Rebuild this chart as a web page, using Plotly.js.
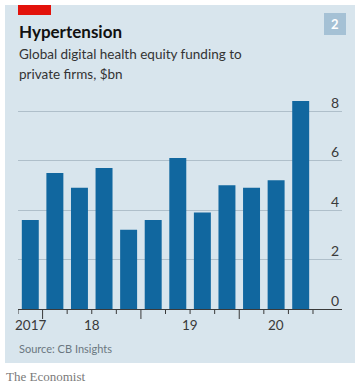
<!DOCTYPE html>
<html>
<head>
<meta charset="utf-8">
<script src="https://cdn.plot.ly/plotly-3.0.1.min.js"></script>
<style>
html,body{margin:0;padding:0;background:#fff;}
#chart{width:362px;height:392px;}
</style>
</head>
<body>
<div id="chart"></div>
<script>
// Quarterly funding, $bn (Q4 2017 .. Q3 2020)
var quarters = ["2017 Q4","2018 Q1","2018 Q2","2018 Q3","2018 Q4","2019 Q1","2019 Q2","2019 Q3","2019 Q4","2020 Q1","2020 Q2","2020 Q3"];
var funding = [3.6, 5.5, 4.9, 5.7, 3.2, 3.6, 6.1, 3.9, 5.0, 4.9, 5.2, 8.4];
var yearLabels = ["2017", "18", "19", "20"];
var yearLabelPos = [0, 2.5, 6.5, 10];
var quarterBounds = [-0.5, 0.5, 1.5, 2.5, 3.5, 4.5, 5.5, 6.5, 7.5, 8.5, 9.5, 10.5, 11.5];
var yearBounds = [0.5, 4.5, 8.5];
var yTicks = [0, 2, 4, 6, 8];

var W = 362, H = 392;
function px(x){ return x / W; }
function py(y){ return 1 - y / H; }

var xIdx = quarters.map(function(q, i){ return i; });
var xRange = [-0.5, 12.68];
var yMax = 9.0;
var axisY = 309;
var xDomain = [px(18), px(342)];
var yDomain = [py(axisY), py(axisY - yMax * 24.75)];

var traces = [{
  type: "bar",
  x: xIdx,
  y: funding,
  text: quarters,
  hoverinfo: "text+y",
  textposition: "none",
  marker: { color: "#11679f" },
  width: 0.69
}];

var bg = "#d8e5ed";
var axCol = "#3a3a3a";

var annotations = [
  { text: "<b>Hypertension</b>", xref: "paper", yref: "paper", x: px(17), y: py(31),
    xanchor: "left", yanchor: "middle", showarrow: false,
    font: { size: 17, color: "#111", family: "Lato, sans-serif" } },
  { text: "Global digital health equity funding to", xref: "paper", yref: "paper", x: px(17), y: py(54),
    xanchor: "left", yanchor: "middle", showarrow: false,
    font: { size: 13.5, color: "#333", family: "Lato, sans-serif" } },
  { text: "private firms, $bn", xref: "paper", yref: "paper", x: px(17), y: py(74),
    xanchor: "left", yanchor: "middle", showarrow: false,
    font: { size: 13.5, color: "#333", family: "Lato, sans-serif" } },
  { text: "<b>2</b>", xref: "paper", yref: "paper", x: px(335), y: py(24),
    xanchor: "center", yanchor: "middle", showarrow: false,
    font: { size: 13, color: "#ffffff", family: "Lato, sans-serif" } },
  { text: "Source: CB Insights", xref: "paper", yref: "paper", x: px(17), y: py(348),
    xanchor: "left", yanchor: "middle", showarrow: false,
    font: { size: 11, color: "#6b7780", family: "Lato, sans-serif" } },
  { text: "The Economist", xref: "paper", yref: "paper", x: px(4), y: py(376),
    xanchor: "left", yanchor: "middle", showarrow: false,
    font: { size: 13, color: "#7a7a7a", family: "'Liberation Serif', 'DejaVu Serif', serif" } }
];
yearLabels.forEach(function(lbl, i){
  annotations.push({ text: lbl, xref: "x", yref: "paper", x: yearLabelPos[i], y: py(325),
    xanchor: "center", yanchor: "middle", showarrow: false,
    font: { size: 13.5, color: axCol, family: "Lato, sans-serif" } });
});

function whiteStrip(x0, x1, y0, y1){
  return { type: "rect", xref: "paper", yref: "paper", x0: px(x0), x1: px(x1), y0: py(y1), y1: py(y0),
           fillcolor: "#ffffff", line: { width: 0 }, layer: "above" };
}

var shapes = [
  // white page margins around the light-blue panel
  whiteStrip(0, 362, 0, 5),
  whiteStrip(0, 5, 0, 392),
  whiteStrip(355, 362, 0, 392),
  whiteStrip(0, 362, 363, 392),
  { type: "rect", xref: "paper", yref: "paper", x0: px(18), x1: px(51), y0: py(15), y1: py(5),
    fillcolor: "#e3120b", line: { width: 0 }, layer: "above" },
  { type: "rect", xref: "paper", yref: "paper", x0: px(324), x1: px(346), y0: py(35), y1: py(13),
    fillcolor: "#a5c1d5", line: { width: 0 }, layer: "above" }
];
// axis tick marks: short at quarter boundaries, long at year boundaries (placed via the x scale)
quarterBounds.forEach(function(b){
  var isYear = yearBounds.indexOf(b) >= 0;
  shapes.push({ type: "line", xref: "x", yref: "paper", x0: b, x1: b,
    y0: py(axisY), y1: py(axisY + (isYear ? 10 : 5)),
    line: { color: axCol, width: 1 }, layer: "above" });
});

var layout = {
  width: W, height: H,
  margin: { l: 0, r: 0, t: 0, b: 0 },
  paper_bgcolor: bg,
  plot_bgcolor: bg,
  showlegend: false,
  font: { family: "Lato, 'Open Sans', sans-serif", color: "#333" },
  xaxis: {
    domain: xDomain, range: xRange, fixedrange: true,
    showgrid: false, zeroline: false,
    showline: true, linecolor: axCol, linewidth: 1,
    showticklabels: false, ticks: ""
  },
  yaxis: {
    domain: yDomain, range: [0, yMax], fixedrange: true,
    side: "right", tickmode: "array", tickvals: yTicks,
    showgrid: true, gridcolor: "#afbfca", gridwidth: 1,
    zeroline: false, showline: false, ticks: "",
    ticklabelposition: "inside", ticklabelshift: -8,
    tickfont: { size: 14, color: axCol, family: "Lato, sans-serif" }
  },
  shapes: shapes,
  annotations: annotations
};

Plotly.newPlot("chart", traces, layout, { displayModeBar: false, staticPlot: true });
</script>
</body>
</html>
